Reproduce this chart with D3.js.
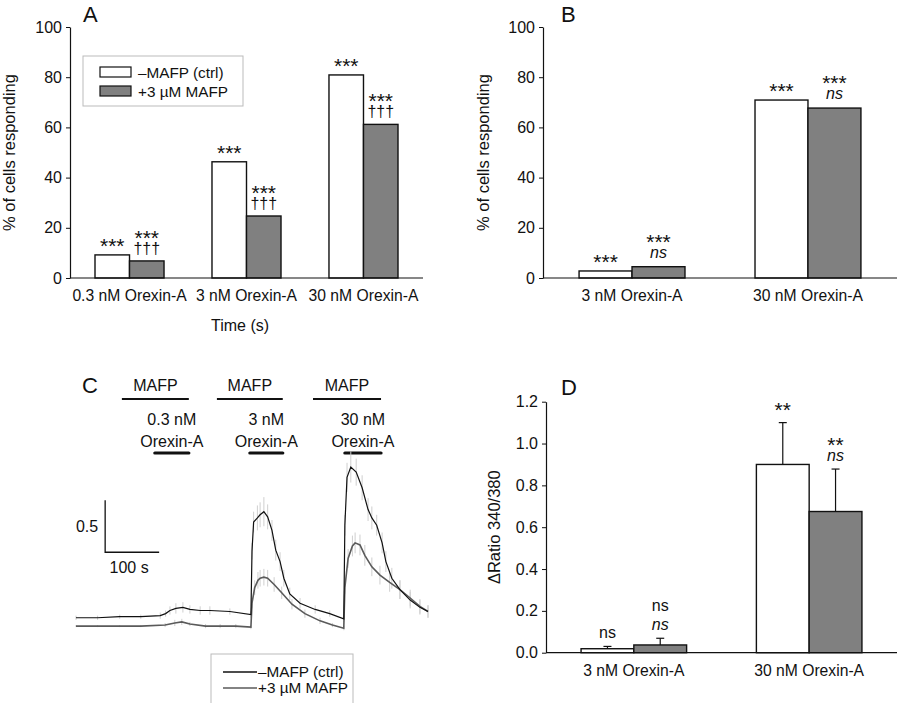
<!DOCTYPE html>
<html>
<head>
<meta charset="utf-8">
<script src="https://cdn.jsdelivr.net/npm/d3@7"></script>
<style>
  body { margin: 0; background: #fff; }
  svg { display: block; font-family: "Liberation Sans", Arial, sans-serif; }
</style>
</head>
<body>
<svg id="fig" width="900" height="703"></svg>
<script>
// ---- data ----
var seriesNames = ["\u2013MAFP (ctrl)", "+3 \u00b5M MAFP"];

var catsA = ["0.3 nM Orexin-A", "3 nM Orexin-A", "30 nM Orexin-A"];
var ctrlA = [9.2, 46.3, 80.9];
var mafpA = [6.8, 24.7, 61.2];
var ctrlA_sig = [["***"], ["***"], ["***"]];
var mafpA_sig = [["***", "\u2020\u2020\u2020"], ["***", "\u2020\u2020\u2020"], ["***", "\u2020\u2020\u2020"]];

var catsB = ["3 nM Orexin-A", "30 nM Orexin-A"];
var ctrlB = [2.8, 70.9];
var mafpB = [4.5, 67.7];
var ctrlB_sig = [["***"], ["***"]];
var mafpB_sig = [["***", "ns"], ["***", "ns"]];

var catsD = ["3 nM Orexin-A", "30 nM Orexin-A"];
var ctrlD = [0.019, 0.90];
var mafpD = [0.037, 0.675];
var ctrlD_err = [0.011, 0.20];
var mafpD_err = [0.032, 0.203];
var ctrlD_sig = [["ns"], ["**"]];
var mafpD_sig = [["ns", "ns"], ["**", "ns"]];

var pctTicks = [0, 20, 40, 60, 80, 100];
var ratioTicks = [0, 0.2, 0.4, 0.6, 0.8, 1.0, 1.2];

// panel C traces: [time (s), ratio, sem]
var traceCtrl = [
  [0, 0.31, 0.02], [40, 0.31, 0.02], [81, 0.32, 0.02], [120, 0.32, 0.02], [156, 0.33, 0.03],
  [166, 0.35, 0.03], [174, 0.38, 0.04], [185, 0.40, 0.05], [198, 0.41, 0.05], [211, 0.39, 0.04],
  [230, 0.38, 0.04], [248, 0.38, 0.04], [285, 0.37, 0.03], [324, 0.34, 0.03],
  [326, 0.95, 0.08], [329, 1.23, 0.10], [336, 1.27, 0.12], [341, 1.30, 0.12], [348, 1.33, 0.14],
  [355, 1.28, 0.12], [363, 1.15, 0.10], [370, 0.96, 0.10], [378, 0.85, 0.09], [385, 0.69, 0.08],
  [396, 0.54, 0.06], [415, 0.45, 0.05], [443, 0.39, 0.04], [470, 0.35, 0.03], [496, 0.30, 0.03],
  [498, 1.20, 0.10], [502, 1.66, 0.14], [509, 1.76, 0.15], [519, 1.71, 0.13], [530, 1.56, 0.12],
  [541, 1.35, 0.11], [548, 1.27, 0.11], [557, 1.20, 0.10], [567, 1.03, 0.10], [574, 0.85, 0.10],
  [585, 0.69, 0.10], [600, 0.58, 0.09], [619, 0.48, 0.08], [637, 0.41, 0.07], [652, 0.37, 0.06]
];
var traceMafp = [
  [0, 0.23, 0.01], [40, 0.23, 0.01], [81, 0.23, 0.01], [120, 0.23, 0.01], [165, 0.24, 0.02],
  [183, 0.26, 0.03], [196, 0.27, 0.03], [211, 0.25, 0.02], [240, 0.23, 0.02], [267, 0.23, 0.02],
  [296, 0.23, 0.02], [324, 0.22, 0.02], [326, 0.45, 0.05], [331, 0.60, 0.07], [337, 0.67, 0.08],
  [341, 0.69, 0.08], [348, 0.70, 0.08], [355, 0.69, 0.08], [367, 0.63, 0.07], [381, 0.55, 0.06],
  [400, 0.44, 0.05], [424, 0.35, 0.04], [452, 0.28, 0.03], [475, 0.24, 0.02], [496, 0.21, 0.02],
  [498, 0.60, 0.06], [504, 0.88, 0.09], [512, 1.00, 0.10], [517, 1.03, 0.10], [526, 1.01, 0.10],
  [535, 0.91, 0.10], [548, 0.80, 0.09], [563, 0.72, 0.09], [581, 0.65, 0.09], [600, 0.58, 0.09],
  [619, 0.50, 0.08], [637, 0.42, 0.07], [652, 0.37, 0.06]
];
var mafpBars = [[85, 209], [261, 383], [439, 565]];
var orexinBars = [[146, 209], [322, 383], [498, 565]];
var orexinDoses = ["0.3 nM", "3 nM", "30 nM"];
var scaleBar = { t: 54, r: 0.94, dt: 100, dr: 0.5 };

// ---- drawing ----
var svg = d3.select("#fig");
var FILL = ["#ffffff", "#808080"];
var FS = 16;

function isStars(t) { return t.indexOf("*") >= 0; }

function barPanel(opt) {
  var g = svg.append("g");
  var x = d3.scaleBand().domain(opt.cats).range([opt.left, opt.right])
    .paddingInner(opt.pi).paddingOuter(opt.po);
  var sub = d3.scaleBand().domain([0, 1]).range([0, x.bandwidth()]);
  var y = d3.scaleLinear().domain(opt.domain).range([opt.bottom, opt.top]);

  [opt.ctrl, opt.mafp].forEach(function(vals, s) {
    g.selectAll(null).data(vals).enter().append("rect")
      .attr("x", function(d, i) { return x(opt.cats[i]) + sub(s); })
      .attr("y", function(d) { return y(d); })
      .attr("width", sub.bandwidth())
      .attr("height", function(d) { return y(0) - y(d); })
      .attr("fill", FILL[s])
      .attr("stroke", "#111")
      .attr("stroke-width", 1.4);

    var errs = s == 0 ? opt.ctrlErr : opt.mafpErr;
    if (errs) {
      vals.forEach(function(v, i) {
        var cx = x(opt.cats[i]) + sub(s) + sub.bandwidth() / 2;
        g.append("line").attr("x1", cx).attr("x2", cx)
          .attr("y1", y(v)).attr("y2", y(v + errs[i]))
          .attr("stroke", "#111").attr("stroke-width", 1.2);
        g.append("line").attr("x1", cx - 4).attr("x2", cx + 4)
          .attr("y1", y(v + errs[i])).attr("y2", y(v + errs[i]))
          .attr("stroke", "#111").attr("stroke-width", 1.2);
      });
    }

    // significance marks, stacked from the bar (or error bar) upward
    var sig = s == 0 ? opt.ctrlSig : opt.mafpSig;
    vals.forEach(function(v, i) {
      var cx = x(opt.cats[i]) + sub(s) + sub.bandwidth() / 2;
      var top = y(v + (errs ? errs[i] : 0));
      var lines = sig[i].slice().reverse();
      var base = top - (isStars(lines[0]) ? opt.starOff : opt.textOff);
      lines.forEach(function(txt, k) {
        if (k > 0) base -= isStars(txt) ? opt.starGap : 19;
        var italic = (txt == "ns" && k == 0 && lines.length > 1);
        g.append("text")
          .attr("x", cx)
          .attr("y", base)
          .attr("text-anchor", "middle")
          .attr("font-size", isStars(txt) ? 21 : FS)
          .attr("font-family", "Liberation Sans, Arial, sans-serif")
          .attr("font-style", italic ? "italic" : "normal")
          .attr("fill", "#111")
          .text(txt);
      });
    });
  });

  var ax = g.append("g")
    .attr("transform", "translate(" + opt.left + ",0)")
    .call(d3.axisLeft(y).tickValues(opt.ticks).tickFormat(opt.fmt).tickSize(4).tickPadding(4).tickSizeOuter(0));
  ax.select(".domain").attr("stroke", "#111").attr("stroke-width", 1.2);
  ax.selectAll(".tick line").attr("stroke", "#111");
  ax.selectAll("text").attr("font-size", FS).attr("fill", "#111")
    .attr("font-family", "Liberation Sans, Arial, sans-serif");

  g.append("line").attr("x1", opt.left).attr("x2", opt.right)
    .attr("y1", y(0)).attr("y2", y(0))
    .attr("stroke", "#111").attr("stroke-width", 1.2);

  g.selectAll(null).data(opt.cats).enter().append("text")
    .attr("x", function(d) { return x(d) + x.bandwidth() / 2; })
    .attr("y", y(0) + 23)
    .attr("text-anchor", "middle")
    .attr("font-size", 15.7)
    .attr("fill", "#111")
    .text(function(d) { return d; });

  g.append("text")
    .attr("transform", "translate(" + opt.titleX + "," + ((opt.top + opt.bottom) / 2) + ") rotate(-90)")
    .attr("text-anchor", "middle")
    .attr("font-size", 16.5)
    .attr("fill", "#111")
    .text(opt.title);

  g.append("text")
    .attr("x", opt.labelX).attr("y", opt.labelY)
    .attr("font-size", 22)
    .attr("fill", "#111")
    .text(opt.label);
  return g;
}

var gA = barPanel({
  cats: catsA, ctrl: ctrlA, mafp: mafpA, ctrlSig: ctrlA_sig, mafpSig: mafpA_sig,
  left: 70, right: 423, top: 27, bottom: 278, pi: 0.41, po: 0.2137,
  domain: [0, 100], ticks: pctTicks, fmt: d3.format("d"),
  starOff: 2, textOff: 7, starGap: 9, title: "% of cells responding", titleX: 15,
  label: "A", labelX: 83, labelY: 22
});
gA.append("text").attr("x", 240).attr("y", 331).attr("text-anchor", "middle")
  .attr("font-size", FS).attr("fill", "#111").text("Time (s)");

var legA = gA.append("g").attr("transform", "translate(83,56)");
legA.append("rect").attr("width", 160).attr("height", 50)
  .attr("fill", "#fff").attr("stroke", "#bbb").attr("stroke-width", 1);
seriesNames.forEach(function(n, i) {
  legA.append("rect").attr("x", 17).attr("y", 11 + i * 19).attr("width", 31).attr("height", 10)
    .attr("fill", FILL[i]).attr("stroke", "#111").attr("stroke-width", 1.2);
  legA.append("text").attr("x", 55).attr("y", 22 + i * 19)
    .attr("font-size", 15.3).attr("fill", "#111").text(n);
});

barPanel({
  cats: catsB, ctrl: ctrlB, mafp: mafpB, ctrlSig: ctrlB_sig, mafpSig: mafpB_sig,
  left: 543, right: 897, top: 27, bottom: 278, pi: 0.398, po: 0.205,
  domain: [0, 100], ticks: pctTicks, fmt: d3.format("d"),
  starOff: 2, textOff: 9, starGap: 9, title: "% of cells responding", titleX: 489,
  label: "B", labelX: 561, labelY: 22
});

barPanel({
  cats: catsD, ctrl: ctrlD, mafp: mafpD, ctrlSig: ctrlD_sig, mafpSig: mafpD_sig,
  ctrlErr: ctrlD_err, mafpErr: mafpD_err,
  left: 546, right: 897, top: 401.7, bottom: 652.7, pi: 0.398, po: 0.2,
  domain: [0, 1.2], ticks: ratioTicks, fmt: d3.format(".1f"),
  starOff: 6, textOff: 8, starGap: 9, title: "\u0394Ratio 340/380", titleX: 500,
  label: "D", labelX: 561, labelY: 395
});

// ---- panel C ----
var gC = svg.append("g");
var xt = d3.scaleLinear().domain([0, 652]).range([76, 428]);
var yr = d3.scaleLinear().domain([0, 1.8]).range([650, 462.8]);

gC.append("text").attr("x", 82).attr("y", 393).attr("font-size", 22).attr("fill", "#111").text("C");

mafpBars.forEach(function(b) {
  gC.append("line").attr("x1", xt(b[0])).attr("x2", xt(b[1])).attr("y1", 399).attr("y2", 399)
    .attr("stroke", "#111").attr("stroke-width", 2);
  gC.append("text").attr("x", (xt(b[0]) + xt(b[1])) / 2).attr("y", 391)
    .attr("text-anchor", "middle").attr("font-size", FS).attr("fill", "#111").text("MAFP");
});
orexinBars.forEach(function(b, i) {
  gC.append("line").attr("x1", xt(b[0])).attr("x2", xt(b[1])).attr("y1", 453).attr("y2", 453)
    .attr("stroke", "#111").attr("stroke-width", 3.2).attr("stroke-linecap", "round");
  var cx = (xt(b[0]) + xt(b[1])) / 2;
  gC.append("text").attr("x", cx).attr("y", 425)
    .attr("text-anchor", "middle").attr("font-size", FS).attr("fill", "#111").text(orexinDoses[i]);
  gC.append("text").attr("x", cx).attr("y", 447)
    .attr("text-anchor", "middle").attr("font-size", FS).attr("fill", "#111").text("Orexin-A");
});

[traceCtrl, traceMafp].forEach(function(tr) {
  gC.selectAll(null).data(tr).enter().append("line")
    .attr("x1", function(d) { return xt(d[0]); })
    .attr("x2", function(d) { return xt(d[0]); })
    .attr("y1", function(d) { return yr(d[1] - d[2]); })
    .attr("y2", function(d) { return yr(d[1] + d[2]); })
    .attr("stroke", "#cfcfcf").attr("stroke-width", 1);
});

var traceLine = d3.line()
  .x(function(d) { return xt(d[0]); })
  .y(function(d) { return yr(d[1]); });

gC.append("path").datum(traceMafp).attr("d", traceLine)
  .attr("fill", "none").attr("stroke", "#5a5a5a").attr("stroke-width", 1.6);
gC.append("path").datum(traceCtrl).attr("d", traceLine)
  .attr("fill", "none").attr("stroke", "#111").attr("stroke-width", 1.2);

var sbx = xt(scaleBar.t), sby = yr(scaleBar.r);
gC.append("path")
  .attr("d", "M" + sbx + "," + yr(scaleBar.r + scaleBar.dr) + "V" + sby + "H" + xt(scaleBar.t + scaleBar.dt))
  .attr("fill", "none").attr("stroke", "#111").attr("stroke-width", 1.3);
gC.append("text").attr("x", sbx - 7).attr("y", 532).attr("text-anchor", "end")
  .attr("font-size", FS).attr("fill", "#111").text(scaleBar.dr);
gC.append("text").attr("x", (sbx + xt(scaleBar.t + scaleBar.dt)) / 2 - 3).attr("y", 573)
  .attr("text-anchor", "middle").attr("font-size", FS).attr("fill", "#111").text(scaleBar.dt + " s");

var legC = gC.append("g").attr("transform", "translate(211,654)");
legC.append("rect").attr("width", 142).attr("height", 52)
  .attr("fill", "#fff").attr("stroke", "#bbb").attr("stroke-width", 1);
var legColors = ["#111", "#5a5a5a"];
seriesNames.forEach(function(n, i) {
  legC.append("line").attr("x1", 12).attr("x2", 46).attr("y1", 18 + i * 16).attr("y2", 18 + i * 16)
    .attr("stroke", legColors[i]).attr("stroke-width", 1.5);
  legC.append("text").attr("x", 47).attr("y", 23 + i * 16)
    .attr("font-size", 15.3).attr("fill", "#111").text(n);
});
</script>
</body>
</html>
